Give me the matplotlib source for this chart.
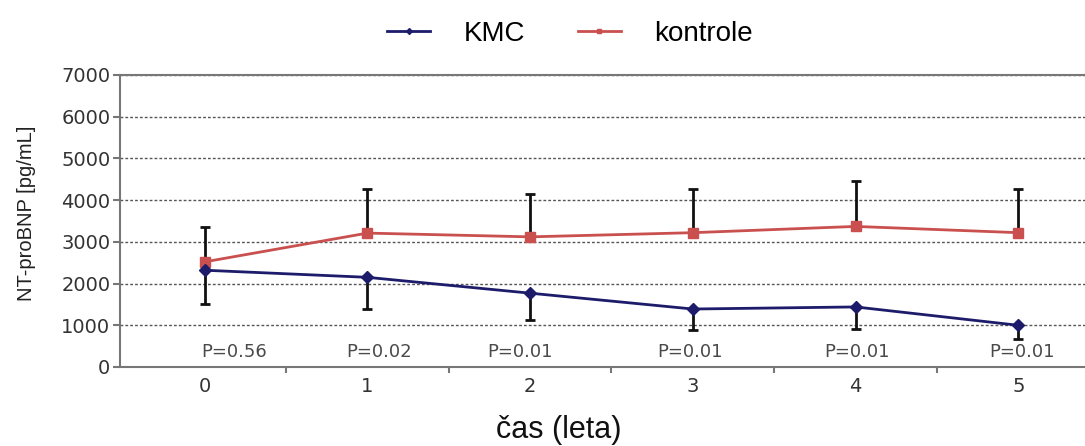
import matplotlib
matplotlib.use("Agg")
import matplotlib.pyplot as plt
import numpy as np

years = [0, 1, 2, 3, 4, 5]
kmc = [2320, 2150, 1770, 1390, 1440, 1000]
kmc_err_low = [810, 760, 640, 500, 530, 330]
kontrole = [2520, 3210, 3120, 3220, 3370, 3220]
kontrole_err_up = [840, 1050, 1030, 1040, 1080, 1040]
p_labels = ["P=0.56", "P=0.02", "P=0.01", "P=0.01", "P=0.01", "P=0.01"]
p_x = [0.18, 0.07, -0.06, -0.02, 0.01, 0.02]
p_y = 360

plt.rcParams['font.family'] = ['Liberation Sans', 'DejaVu Sans']

W, H = 1085, 446
fig = plt.figure(figsize=(W / 100, H / 100), dpi=100)
ax = fig.add_axes([120 / W, 1 - 367 / H, 1 - 120 / W, (367 - 75) / H])

navy = '#1c1c6b'
red = '#c9504f'

ax.errorbar(years, kontrole, yerr=[np.zeros(6), kontrole_err_up], fmt='none',
            ecolor='#111111', elinewidth=2, capsize=3.5, capthick=2, zorder=3)
ax.errorbar(years, kmc, yerr=[kmc_err_low, np.zeros(6)], fmt='none',
            ecolor='#111111', elinewidth=2, capsize=3.5, capthick=2, zorder=3)
l2, = ax.plot(years, kontrole, color=red, lw=2, marker='s', ms=6.5, zorder=4, label='kontrole')
l1, = ax.plot(years, kmc, color=navy, lw=2, marker='D', ms=6, zorder=5, label='KMC')

for x, dx, t in zip(years, p_x, p_labels):
    ax.text(x + dx, p_y, t, ha='center', va='center', fontsize=13, color='#4a4a4a',
            family=['DejaVu Sans'])

ax.set_xlim(-0.52, 5.41)
ax.set_ylim(0, 7000)
ax.set_yticks(range(0, 7001, 1000))
ax.set_xticks(years)
ax.set_xticks([0.5, 1.5, 2.5, 3.5, 4.5], minor=True)
ax.tick_params(axis='x', which='minor', length=4, color='#777777', width=1.5)
ax.tick_params(axis='x', which='major', length=0, pad=7, labelsize=14, labelcolor='#333333')
ax.tick_params(axis='y', length=5, color='#777777', width=1.5, labelsize=14, labelcolor='#333333', pad=2)
for lab in ax.get_xticklabels() + ax.get_yticklabels():
    lab.set_family(['DejaVu Sans'])

ax.grid(axis='y', linestyle=(0, (2, 1.5)), color='#555555', lw=1)
ax.set_axisbelow(True)
for s in ['left', 'bottom', 'top']:
    ax.spines[s].set_color('#777777')
    ax.spines[s].set_linewidth(1.5)
ax.spines['right'].set_visible(False)

fig.text(27 / W, 1 - 213 / H, 'NT-proBNP [pg/mL]', rotation=90, ha='center', va='center',
         fontsize=14.5, color='#222222')
fig.text(559 / W, 1 - 430 / H, 'čas (leta)', ha='center', va='center',
         fontsize=22, color='#111111')

fig.legend([l1, l2], ['KMC', 'kontrole'], loc='center', bbox_to_anchor=(570 / W, 1 - 34 / H),
           ncol=2, frameon=False, fontsize=20, handlelength=1.55, columnspacing=1.9,
           handletextpad=1.2, markerscale=0.5, borderpad=0)

fig.savefig('out.png', dpi=100)
